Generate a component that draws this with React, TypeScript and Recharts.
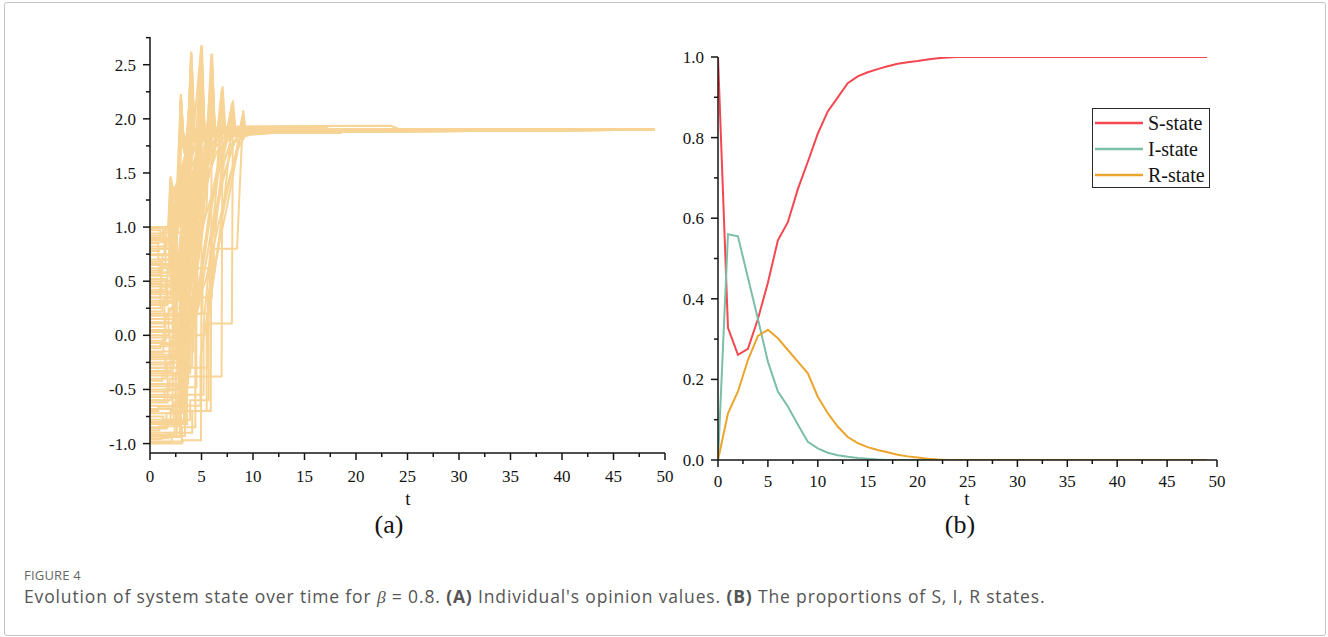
import { LineChart, Line, XAxis, YAxis, Legend } from "recharts";

const AXIS_FONT = '"Liberation Serif", "Times New Roman", serif';
const CAPTION_FONT = '"Open Sans", "Noto Sans", sans-serif';
const INK = "#141414";

// panel (a): each row is one individual's opinion path, as t, value pairs
const opinionPaths = [
  [0, 1.0, 1.8, 1.0, 2.0, 1.47, 2.15, 1.32, 2.75, 1.36, 3.0, 2.23, 3.25, 1.8, 3.8, 1.86, 5, 1.9, 49, 1.9],
  [0, 0.97, 1.0, 0.97, 1.0, 0.9, 1.9, 0.9, 2.05, 1.42, 2.3, 1.28, 2.7, 1.3, 2.95, 2.05, 3.2, 1.75, 4.2, 1.88, 49, 1.9],
  [0, 0.78, 0.9, 0.78, 0.9, 0.8, 2.0, 0.8, 2.0, 1.1, 2.8, 1.1, 3.05, 1.95, 3.3, 1.7, 4.5, 1.87, 49, 1.9],
  [0, 0.9, 1.5, 0.9, 1.5, 0.66, 2.3, 0.66, 2.3, 1.2, 2.85, 1.2, 3.05, 2.12, 3.35, 1.72, 4.6, 1.88, 49, 1.9],
  [0, 0.6, 1.2, 0.6, 1.2, 0.75, 2.6, 0.75, 2.6, 1.15, 3.6, 1.6, 4.0, 2.62, 4.3, 1.85, 5.5, 1.9, 49, 1.9],
  [0, 0.45, 2.1, 0.45, 2.1, 0.95, 3.2, 0.95, 3.55, 1.55, 3.95, 2.4, 4.25, 1.82, 5.2, 1.9, 49, 1.9],
  [0, 0.52, 1.6, 0.52, 1.6, 0.3, 2.5, 0.3, 2.5, 1.0, 3.7, 1.3, 4.05, 2.2, 4.3, 1.8, 5.6, 1.89, 49, 1.9],
  [0, 0.85, 0.8, 0.85, 0.8, 0.7, 2.2, 0.7, 2.2, 1.3, 3.6, 1.68, 3.98, 2.5, 4.28, 1.86, 5.3, 1.9, 49, 1.9],
  [0, 0.3, 2.4, 0.3, 2.4, 0.6, 3.3, 0.6, 3.3, 1.25, 3.75, 1.5, 4.05, 2.05, 4.35, 1.78, 6, 1.88, 49, 1.9],
  [0, -0.98, 3.2, -0.98, 3.2, -0.97, 4.95, -0.97, 5.05, 2.68, 5.3, 1.88, 6.5, 1.9, 49, 1.9],
  [0, -1.0, 3.1, -1.0, 3.1, -0.85, 4.4, -0.85, 4.4, 0.2, 4.85, 1.6, 5.0, 2.45, 5.3, 1.85, 6.3, 1.9, 49, 1.9],
  [0, 0.15, 2.6, 0.15, 2.6, 0.5, 4.2, 0.5, 4.7, 1.7, 5.0, 2.3, 5.25, 1.86, 6.0, 1.9, 49, 1.9],
  [0, -0.2, 1.9, -0.2, 1.9, 0.05, 3.4, 0.05, 3.4, 0.9, 4.6, 1.5, 4.98, 2.55, 5.3, 1.84, 6.4, 1.89, 49, 1.9],
  [0, 0.68, 1.1, 0.68, 1.1, 0.4, 3.0, 0.4, 3.0, 0.8, 4.3, 1.25, 5.05, 2.15, 5.35, 1.85, 6.2, 1.9, 49, 1.9],
  [0, -0.72, 2.9, -0.72, 2.9, -0.7, 5.9, -0.7, 6.0, 2.6, 6.3, 1.87, 7.5, 1.9, 49, 1.9],
  [0, -0.45, 2.2, -0.45, 2.2, -0.3, 4.1, -0.3, 4.1, 0.35, 5.5, 1.2, 5.95, 2.4, 6.3, 1.85, 7.3, 1.9, 49, 1.9],
  [0, 0.05, 3.0, 0.05, 3.0, 0.25, 4.6, 0.25, 4.6, 1.0, 5.6, 1.6, 6.05, 2.2, 6.35, 1.84, 7.2, 1.89, 49, 1.9],
  [0, -0.6, 1.4, -0.6, 1.4, -0.5, 3.6, -0.5, 3.6, -0.1, 5.0, 0.9, 5.7, 1.7, 6.0, 2.05, 6.3, 1.83, 7.6, 1.9, 49, 1.9],
  [0, -0.35, 3.3, -0.35, 3.3, -0.38, 6.95, -0.38, 7.05, 2.3, 7.35, 1.86, 8.5, 1.9, 49, 1.9],
  [0, -0.1, 2.7, -0.1, 2.7, 0.2, 5.1, 0.2, 5.1, 0.7, 6.5, 1.5, 6.95, 2.15, 7.3, 1.85, 8.3, 1.9, 49, 1.9],
  [0, -0.8, 3.4, -0.8, 3.4, -0.55, 5.2, -0.55, 5.2, 0.1, 6.4, 1.3, 7.05, 2.0, 7.35, 1.84, 8.6, 1.89, 49, 1.9],
  [0, -0.25, 2.8, -0.25, 2.8, 0.0, 5.3, 0.0, 5.3, 0.11, 7.95, 0.11, 8.05, 2.17, 8.35, 1.86, 9.4, 1.9, 49, 1.9],
  [0, -0.9, 2.6, -0.9, 2.6, -0.65, 4.9, -0.65, 4.9, -0.2, 6.8, 0.9, 7.6, 1.6, 8.0, 2.05, 8.3, 1.84, 9.6, 1.9, 49, 1.9],
  [0, 0.35, 3.8, 0.35, 3.8, 0.62, 6.2, 0.62, 6.2, 0.8, 8.45, 0.8, 9.05, 2.08, 9.3, 1.87, 10.5, 1.9, 49, 1.9],
  [0, -0.55, 3.1, -0.55, 3.1, -0.3, 5.6, -0.3, 5.6, 0.35, 7.5, 1.2, 8.6, 1.75, 9.0, 1.98, 9.3, 1.86, 11, 1.89, 49, 1.9],
  [0, 0.25, 1.0, 0.25, 1.0, 0.45, 2.9, 0.45, 3.4, 1.3, 4.2, 1.7, 5.5, 1.84, 8, 1.88, 12, 1.89, 49, 1.9],
  [0, -0.3, 2.3, -0.3, 2.3, 0.3, 4.0, 0.8, 5.0, 1.3, 6.5, 1.7, 8, 1.84, 12, 1.87, 18.5, 1.87, 19, 1.9, 49, 1.9],
  [0, -0.65, 3.0, -0.65, 3.0, -0.4, 4.8, 0.3, 6.0, 1.0, 7.2, 1.5, 8.2, 1.78, 9.5, 1.86, 15, 1.88, 15.5, 1.9, 49, 1.9],
  [0, 0.55, 2.0, 0.55, 2.4, 1.1, 3.2, 1.5, 4.4, 1.8, 6, 1.92, 9, 1.93, 23.4, 1.935, 24.3, 1.9, 49, 1.9],
  [0, -0.05, 1.5, -0.05, 1.5, 0.15, 3.6, 0.5, 5.4, 1.1, 6.8, 1.55, 7.8, 1.75, 8.7, 1.85, 11, 1.88, 49, 1.9],
  [0, 0.82, 1.6, 0.82, 1.6, 1.0, 2.2, 1.05, 2.8, 1.45, 3.5, 1.7, 4.5, 1.84, 7, 1.9, 49, 1.9],
  [0, -0.85, 1.7, -0.85, 1.7, -0.78, 3.9, -0.78, 3.9, -0.6, 5.7, -0.6, 5.7, 0.2, 7.0, 1.1, 7.9, 1.5, 8.6, 1.8, 9.8, 1.87, 12, 1.88, 49, 1.9],
  [0, 0.4, 2.9, 0.4, 2.9, 0.85, 4.0, 1.1, 5.2, 1.45, 6.2, 1.72, 7.5, 1.86, 10, 1.9, 49, 1.9],
  [0, -0.15, 3.6, -0.15, 3.6, 0.1, 5.4, 0.5, 6.6, 1.0, 7.7, 1.45, 8.5, 1.72, 9.2, 1.84, 11, 1.88, 49, 1.9],
  [0, 0.62, 2.3, 0.62, 2.3, 0.95, 3.1, 1.2, 3.9, 1.52, 4.8, 1.75, 5.8, 1.88, 9, 1.9, 49, 1.9],
  [0, -0.95, 1.8, -0.95, 1.8, -0.9, 3.0, -0.9, 3.0, -0.5, 3.8, 0.6, 4.2, 1.5, 4.6, 1.8, 5.05, 2.3, 5.3, 1.86, 6.5, 1.9, 49, 1.9],
  [0, -0.92, 2.4, -0.92, 2.4, -0.82, 3.3, -0.82, 3.3, -0.3, 4.4, 0.9, 5.6, 1.75, 5.98, 2.3, 6.3, 1.86, 7.5, 1.9, 49, 1.9],
  [0, -0.88, 0.9, -0.88, 0.9, -0.84, 2.7, -0.84, 2.7, -0.6, 3.5, 0.2, 3.8, 1.3, 4.02, 2.3, 4.3, 1.84, 5.5, 1.9, 49, 1.9],
  [0, -0.82, 2.0, -0.82, 2.0, -0.7, 3.2, -0.7, 3.2, 0.4, 3.7, 1.45, 3.95, 2.15, 4.25, 1.8, 5.7, 1.89, 49, 1.9],
  [0, -0.75, 1.3, -0.75, 1.3, -0.8, 2.5, -0.8, 2.5, -0.4, 3.6, 0.7, 4.6, 1.6, 5.02, 2.55, 5.3, 1.85, 6.6, 1.9, 49, 1.9],
  [0, -0.68, 2.2, -0.68, 2.2, -0.45, 3.7, -0.45, 3.7, 0.0, 5.0, 1.0, 5.8, 1.7, 6.02, 2.5, 6.3, 1.86, 7.6, 1.9, 49, 1.9],
  [0, -0.62, 1.7, -0.62, 1.7, -0.25, 2.9, -0.25, 2.9, 0.55, 3.6, 1.4, 3.97, 2.45, 4.27, 1.85, 5.6, 1.9, 49, 1.9],
  [0, -0.5, 2.8, -0.5, 2.8, -0.15, 4.2, -0.15, 4.2, 0.6, 5.3, 1.3, 6.6, 1.85, 7.0, 2.15, 7.3, 1.86, 8.6, 1.9, 49, 1.9],
  [0, -0.42, 1.2, -0.42, 1.2, -0.35, 3.4, -0.35, 3.4, 0.3, 4.5, 1.2, 4.9, 1.8, 5.0, 2.6, 5.28, 1.87, 6.4, 1.9, 49, 1.9],
  [0, -0.33, 2.0, -0.33, 2.0, -0.05, 3.2, -0.05, 3.2, 0.7, 3.8, 1.6, 4.0, 2.55, 4.28, 1.86, 5.4, 1.9, 49, 1.9],
  [0, -0.22, 2.5, -0.22, 2.5, 0.1, 3.9, 0.1, 3.9, 0.9, 5.4, 1.7, 5.95, 2.45, 6.25, 1.85, 7.4, 1.9, 49, 1.9],
  [0, -0.12, 1.0, -0.12, 1.0, -0.08, 2.2, -0.08, 2.2, 0.6, 2.8, 1.25, 3.02, 2.0, 3.3, 1.72, 4.6, 1.88, 49, 1.9],
  [0, -0.02, 2.6, -0.02, 2.6, 0.4, 3.8, 0.4, 3.8, 1.1, 4.8, 1.75, 5.03, 2.4, 5.3, 1.86, 6.5, 1.9, 49, 1.9],
  [0, 0.08, 1.4, 0.08, 1.4, 0.35, 2.6, 0.35, 2.6, 0.9, 3.6, 1.62, 3.98, 2.35, 4.25, 1.84, 5.4, 1.9, 49, 1.9],
  [0, 0.2, 2.3, 0.2, 2.3, 0.55, 3.5, 0.55, 3.5, 1.2, 4.7, 1.75, 5.02, 2.2, 5.3, 1.86, 6.3, 1.9, 49, 1.9],
  [0, 0.28, 1.7, 0.28, 1.7, 0.62, 2.4, 0.62, 2.4, 1.15, 2.8, 1.3, 3.0, 2.1, 3.28, 1.74, 4.4, 1.87, 49, 1.9],
  [0, 0.38, 2.7, 0.38, 2.7, 0.75, 4.3, 1.0, 5.5, 1.6, 5.97, 2.15, 6.3, 1.85, 7.4, 1.9, 49, 1.9],
  [0, 0.48, 1.1, 0.48, 1.1, 0.58, 2.0, 0.58, 2.0, 1.3, 2.7, 1.32, 2.97, 1.9, 3.3, 1.78, 4.3, 1.88, 49, 1.9],
  [0, 0.58, 1.9, 0.58, 1.9, 1.05, 2.5, 1.05, 2.5, 1.25, 3.55, 1.62, 4.0, 2.55, 4.3, 1.86, 5.4, 1.9, 49, 1.9],
  [0, 0.65, 2.1, 0.65, 2.1, 1.2, 2.75, 1.25, 3.6, 1.7, 4.02, 2.0, 4.3, 1.85, 5.4, 1.9, 49, 1.9],
  [0, 0.75, 1.4, 0.75, 1.4, 0.95, 1.95, 0.95, 2.02, 1.45, 2.2, 1.35, 2.75, 1.33, 3.0, 2.15, 3.3, 1.76, 4.5, 1.88, 49, 1.9],
  [0, 0.88, 1.85, 0.88, 1.98, 1.4, 2.3, 1.36, 2.8, 1.38, 3.4, 1.65, 3.96, 2.3, 4.25, 1.86, 5.3, 1.9, 49, 1.9],
  [0, 0.94, 1.25, 0.94, 1.25, 1.0, 1.9, 1.0, 2.1, 1.33, 2.8, 1.4, 3.02, 1.9, 3.6, 1.8, 4.5, 1.88, 49, 1.9],
  [0, -0.18, 3.3, -0.18, 3.3, 0.45, 4.9, 1.4, 5.6, 1.75, 6.1, 1.83, 6.9, 1.88, 9, 1.89, 16, 1.895, 49, 1.9],
  [0, 0.18, 3.0, 0.18, 3.0, 0.35, 6.0, 0.35, 6.0, 0.9, 7.2, 1.6, 8.0, 1.85, 8.9, 1.9, 10.2, 1.92, 17, 1.92, 17.6, 1.9, 49, 1.9],
  [0, -0.99, 2.1, -0.99, 2.1, -0.93, 3.4, -0.93, 3.4, -0.2, 4.3, 0.9, 5.0, 1.5, 5.9, 1.8, 6.05, 2.45, 6.3, 1.86, 7.5, 1.9, 49, 1.9],
  [0, -0.96, 1.1, -0.96, 1.1, -0.94, 2.9, -0.94, 2.9, -0.6, 3.9, 0.4, 4.5, 1.3, 4.97, 2.5, 5.25, 1.87, 6.4, 1.9, 49, 1.9],
  [0, -0.93, 2.6, -0.93, 2.6, -0.9, 4.1, -0.9, 4.1, -0.7, 5.5, -0.7, 5.5, 0.1, 6.4, 1.0, 7.0, 1.6, 7.6, 1.85, 7.95, 2.1, 8.25, 1.86, 9.4, 1.9, 49, 1.9],
  [0, -0.86, 1.6, -0.86, 1.6, -0.72, 3.1, -0.72, 3.1, -0.1, 3.7, 0.8, 4.0, 1.6, 4.1, 2.45, 4.35, 1.85, 5.6, 1.9, 49, 1.9],
  [0, -0.78, 2.3, -0.78, 2.3, -0.62, 3.5, -0.62, 3.5, 0.0, 4.6, 1.1, 5.5, 1.65, 6.0, 2.55, 6.3, 1.87, 7.4, 1.9, 49, 1.9],
  [0, -0.7, 0.8, -0.7, 0.8, -0.66, 2.8, -0.66, 2.8, -0.2, 3.8, 0.9, 4.5, 1.55, 4.95, 2.1, 5.25, 1.85, 6.3, 1.9, 49, 1.9],
  [0, -0.57, 2.5, -0.57, 2.5, -0.35, 3.9, -0.35, 3.9, 0.5, 5.4, 1.35, 6.5, 1.8, 7.0, 2.25, 7.3, 1.86, 8.5, 1.9, 49, 1.9],
  [0, -0.52, 1.9, -0.52, 1.9, -0.4, 3.0, -0.4, 3.0, 0.3, 3.6, 1.2, 3.95, 2.0, 4.3, 1.82, 5.5, 1.9, 49, 1.9],
  [0, -0.47, 2.7, -0.47, 2.7, -0.48, 4.5, -0.48, 4.5, 0.2, 6.0, 1.2, 7.2, 1.75, 7.95, 2.12, 8.25, 1.86, 9.3, 1.9, 49, 1.9],
  [0, -0.4, 1.5, -0.4, 1.5, -0.2, 2.6, -0.2, 2.6, 0.5, 3.2, 1.2, 3.6, 1.65, 3.98, 2.58, 4.28, 1.87, 5.4, 1.9, 49, 1.9],
  [0, -0.27, 2.2, -0.27, 2.2, 0.0, 3.3, 0.0, 3.3, 0.8, 4.2, 1.5, 4.7, 1.75, 5.0, 2.62, 5.28, 1.87, 6.4, 1.9, 49, 1.9],
  [0, -0.16, 1.3, -0.16, 1.3, 0.05, 2.4, 0.05, 2.4, 0.8, 2.8, 1.3, 3.0, 2.18, 3.3, 1.74, 4.3, 1.87, 49, 1.9],
  [0, -0.07, 2.9, -0.07, 2.9, 0.3, 4.4, 0.3, 4.4, 1.0, 5.4, 1.6, 5.96, 2.6, 6.26, 1.87, 7.4, 1.9, 49, 1.9],
  [0, 0.0, 1.8, 0.0, 1.8, 0.25, 3.1, 0.25, 3.1, 1.0, 3.7, 1.55, 4.03, 2.6, 4.3, 1.86, 5.4, 1.9, 49, 1.9],
  [0, 0.12, 2.5, 0.12, 2.5, 0.45, 3.7, 0.45, 3.7, 1.1, 4.6, 1.65, 5.0, 2.5, 5.3, 1.86, 6.3, 1.9, 49, 1.9],
  [0, 0.22, 1.2, 0.22, 1.2, 0.32, 2.2, 0.32, 2.2, 0.9, 2.7, 1.25, 3.0, 2.2, 3.28, 1.78, 4.2, 1.87, 49, 1.9],
  [0, 0.32, 2.8, 0.32, 2.8, 0.7, 4.0, 0.95, 5.2, 1.45, 6.3, 1.78, 6.98, 2.05, 7.3, 1.86, 8.4, 1.9, 49, 1.9],
  [0, 0.42, 1.5, 0.42, 1.5, 0.5, 2.6, 0.5, 2.6, 1.1, 3.3, 1.5, 3.95, 2.3, 4.25, 1.85, 5.4, 1.9, 49, 1.9],
  [0, 0.5, 2.2, 0.5, 2.2, 0.85, 3.5, 1.2, 4.7, 1.6, 5.6, 1.8, 6.0, 2.35, 6.3, 1.86, 7.4, 1.9, 49, 1.9],
  [0, 0.56, 0.9, 0.56, 0.9, 0.63, 1.85, 0.63, 2.0, 1.2, 2.6, 1.3, 2.98, 2.2, 3.3, 1.76, 4.4, 1.88, 49, 1.9],
  [0, 0.7, 2.0, 0.7, 2.05, 1.44, 2.3, 1.3, 2.75, 1.3, 3.03, 2.05, 3.3, 1.7, 3.6, 1.68, 4.0, 2.45, 4.3, 1.86, 5.5, 1.9, 49, 1.9],
  [0, 0.8, 1.6, 0.8, 1.6, 0.9, 1.95, 0.9, 2.05, 1.38, 2.7, 1.34, 3.0, 2.0, 3.3, 1.78, 4.4, 1.88, 49, 1.9],
  [0, 0.86, 1.9, 0.86, 2.0, 1.3, 2.6, 1.32, 3.6, 1.6, 4.6, 1.85, 5.0, 2.55, 5.3, 1.86, 6.4, 1.9, 49, 1.9],
  [0, 0.92, 1.3, 0.92, 1.3, 0.97, 1.85, 0.97, 2.0, 1.46, 2.25, 1.3, 2.8, 1.35, 3.0, 2.23, 3.28, 1.75, 3.6, 1.65, 4.0, 2.62, 4.3, 1.87, 5.4, 1.9, 49, 1.9],
  [0, 0.99, 1.75, 0.99, 1.97, 1.43, 2.3, 1.32, 2.8, 1.36, 3.5, 1.7, 4.5, 1.86, 4.98, 2.66, 5.3, 1.88, 6.3, 1.9, 49, 1.9],
  [0, 0.03, 3.2, 0.03, 3.2, 0.6, 4.8, 1.3, 5.8, 1.72, 6.5, 1.85, 6.97, 2.28, 7.3, 1.87, 8.3, 1.9, 49, 1.9],
  [0, -0.37, 3.5, -0.37, 3.5, -0.1, 5.0, 0.6, 6.3, 1.4, 7.3, 1.8, 7.98, 2.15, 8.3, 1.86, 9.5, 1.9, 49, 1.9],
  [0, 0.11, 3.4, 0.11, 3.4, 0.2, 5.8, 0.2, 5.8, 0.75, 7.0, 1.4, 8.0, 1.75, 8.6, 1.85, 9.02, 2.05, 9.3, 1.87, 10.6, 1.9, 49, 1.9],
  [0, 0.47, 3.1, 0.47, 3.1, 0.9, 4.4, 1.35, 5.6, 1.7, 6.6, 1.84, 7.5, 1.88, 9.5, 1.9, 49, 1.9],
  [0, -0.6, 2.0, -0.6, 2.0, -0.58, 3.3, -0.58, 3.3, 0.15, 4.3, 1.05, 5.2, 1.6, 5.85, 1.85, 6.03, 2.6, 6.3, 1.87, 7.5, 1.9, 49, 1.9],
  [0, 0.66, 2.4, 0.66, 2.4, 1.1, 3.4, 1.45, 4.3, 1.73, 5.2, 1.86, 6.5, 1.91, 12, 1.92, 14, 1.9, 49, 1.9],
  [0, 0.74, 1.9, 0.74, 1.95, 1.35, 2.7, 1.38, 2.99, 2.12, 3.3, 1.75, 4.2, 1.85, 4.98, 2.68, 5.3, 1.88, 6.3, 1.9, 49, 1.9],
  [0, -0.3, 3.2, -0.3, 3.2, 0.4, 4.3, 1.2, 5.2, 1.7, 5.97, 2.2, 6.3, 1.86, 7.3, 1.9, 49, 1.9],
  [0, 0.35, 2.0, 0.35, 2.0, 0.7, 3.0, 0.7, 3.0, 1.3, 3.7, 1.7, 4.02, 2.4, 4.3, 1.86, 5.4, 1.9, 49, 1.9],
  [0, -0.82, 3.6, -0.82, 3.6, -0.3, 4.8, 0.5, 6.0, 1.3, 7.0, 1.75, 7.5, 1.83, 8.6, 1.86, 9.0, 2.0, 9.3, 1.88, 12.5, 1.88, 13, 1.9, 49, 1.9],
];

const opinionMajorY = [-1, -0.5, 0, 0.5, 1, 1.5, 2, 2.5];
const opinionMinorY = [-0.75, -0.25, 0.25, 0.75, 1.25, 1.75, 2.25, 2.75];

// panel (b): share of S, I, R nodes at each step
const stateNames = ["S-state", "I-state", "R-state"];
const tSteps = [
  0, 1, 2, 3, 4, 5, 6, 7, 8, 9, 10, 11, 12, 13, 14, 15, 16, 17, 18, 19, 20, 21, 22, 23, 24,
  25, 26, 27, 28, 29, 30, 31, 32, 33, 34, 35, 36, 37, 38, 39, 40, 41, 42, 43, 44, 45, 46, 47, 48, 49,
];
const sState = [
  1.0, 0.328, 0.261, 0.276, 0.35, 0.44, 0.545, 0.59, 0.672, 0.74, 0.81, 0.865, 0.9, 0.935, 0.952,
  0.962, 0.97, 0.977, 0.983, 0.987, 0.99, 0.994, 0.997, 0.999, 1, 1, 1, 1, 1, 1, 1, 1, 1, 1, 1, 1,
  1, 1, 1, 1, 1, 1, 1, 1, 1, 1, 1, 1, 1, 1,
];
const iState = [
  0, 0.56, 0.555, 0.452, 0.35, 0.244, 0.17, 0.133, 0.088, 0.045, 0.029, 0.018, 0.012, 0.008, 0.005,
  0.003, 0.001, 0, 0, 0, 0, 0, 0, 0, 0, 0, 0, 0, 0, 0, 0, 0, 0, 0, 0, 0, 0, 0, 0, 0, 0, 0, 0, 0, 0,
  0, 0, 0, 0, 0,
];
const rState = [
  0, 0.116, 0.17, 0.248, 0.308, 0.323, 0.302, 0.273, 0.244, 0.215, 0.157, 0.116, 0.083, 0.057, 0.042,
  0.032, 0.025, 0.019, 0.013, 0.009, 0.006, 0.003, 0.001, 0, 0, 0, 0, 0, 0, 0, 0, 0, 0, 0, 0, 0, 0,
  0, 0, 0, 0, 0, 0, 0, 0, 0, 0, 0, 0, 0,
];
const stateMajorY = [0, 0.2, 0.4, 0.6, 0.8, 1.0];
const stateMinorY = [0.1, 0.3, 0.5, 0.7, 0.9];

const tMajor = [0, 5, 10, 15, 20, 25, 30, 35, 40, 45, 50];
const tMinor = [2.5, 7.5, 12.5, 17.5, 22.5, 27.5, 32.5, 37.5, 42.5, 47.5];

const opinionSeries = opinionPaths.map((p) => {
  const pts: { t: number; v: number }[] = [];
  for (let k = 0; k < p.length; k += 2) pts.push({ t: p[k], v: p[k + 1] });
  return pts;
});

const stateRows = tSteps.map((t, k) => ({ t, s: sState[k], i: iState[k], r: rState[k] }));

const sortNum = (a: number[]) => [...a].sort((x, y) => x - y);

function YTick(props: any) {
  const { x, y, payload, majors } = props;
  const major = majors.includes(payload.value);
  return (
    <g>
      <line x1={x - (major ? 7 : 4)} x2={x} y1={y} y2={y} stroke={INK} strokeWidth={1.5} />
      {major && (
        <text x={x - 14} y={y + 6} textAnchor="end" fill={INK} style={{ fontFamily: AXIS_FONT, fontSize: 17 }}>
          {payload.value.toFixed(1)}
        </text>
      )}
    </g>
  );
}

function XTick(props: any) {
  const { x, y, payload, labelGap } = props;
  const major = tMajor.includes(payload.value);
  return (
    <g>
      <line x1={x} x2={x} y1={y} y2={y + (major ? 7 : 4)} stroke={INK} strokeWidth={1.5} />
      {major && (
        <text x={x} y={y + labelGap} textAnchor="middle" fill={INK} style={{ fontFamily: AXIS_FONT, fontSize: 17 }}>
          {payload.value}
        </text>
      )}
    </g>
  );
}

function StateLegend(props: any) {
  const items = [...(props.payload || [])].sort(
    (a: any, b: any) => stateNames.indexOf(a.value) - stateNames.indexOf(b.value)
  );
  return (
    <div
      style={{
        width: 118,
        height: 80,
        boxSizing: "border-box",
        border: "1.5px solid #2a2a2a",
        background: "#fff",
        paddingTop: 1,
        fontFamily: AXIS_FONT,
        fontSize: 20,
        color: INK,
      }}
    >
      {items.map((it: any) => (
        <div key={it.value} style={{ display: "flex", alignItems: "center", height: 26 }}>
          <svg width={52} height={4} style={{ flex: "none" }}>
            <line x1={2} x2={50} y1={2} y2={2} stroke={it.color} strokeWidth={2.5} />
          </svg>
          <span style={{ marginLeft: 3, lineHeight: "26px" }}>{it.value}</span>
        </div>
      ))}
    </div>
  );
}

export default function App() {
  const axisLine = { stroke: INK, strokeWidth: 1.5 };
  return (
    <div style={{ position: "absolute", left: 0, top: 0, width: 1328, height: 637, background: "#fff" }}>
      <div
        style={{
          position: "absolute",
          left: 4,
          top: 2,
          width: 1322,
          height: 634,
          boxSizing: "border-box",
          border: "1px solid #c4c4c4",
          borderRadius: 3,
        }}
      />

      <div style={{ position: "absolute", left: 0, top: 0 }}>
        <LineChart width={700} height={520} margin={{ top: 37, right: 35, bottom: 27, left: 100 }}>
          <XAxis
            type="number"
            dataKey="t"
            domain={[0, 50]}
            allowDataOverflow
            ticks={sortNum([...tMajor, ...tMinor])}
            interval={0}
            tickSize={0}
            tickMargin={0}
            tickLine={false}
            axisLine={axisLine}
            height={40}
            tick={(p: any) => <XTick {...p} labelGap={29} />}
          />
          <YAxis
            type="number"
            domain={[-1.087, 2.756]}
            allowDataOverflow
            ticks={sortNum([...opinionMajorY, ...opinionMinorY])}
            interval={0}
            tickSize={0}
            tickMargin={0}
            tickLine={false}
            axisLine={axisLine}
            width={50}
            tick={(p: any) => <YTick {...p} majors={opinionMajorY} />}
          />
          {opinionSeries.map((pts, k) => (
            <Line
              key={k}
              data={pts}
              dataKey="v"
              type="linear"
              stroke="#f7d496"
              strokeWidth={2}
              dot={false}
              activeDot={false}
              isAnimationActive={false}
            />
          ))}
        </LineChart>
      </div>

      <div style={{ position: "absolute", left: 640, top: 0 }}>
        <LineChart width={620} height={520} data={stateRows} margin={{ top: 57, right: 43, bottom: 20, left: 38 }}>
          <XAxis
            type="number"
            dataKey="t"
            domain={[0, 50]}
            allowDataOverflow
            ticks={sortNum([...tMajor, ...tMinor])}
            interval={0}
            tickSize={0}
            tickMargin={0}
            tickLine={false}
            axisLine={axisLine}
            height={40}
            tick={(p: any) => <XTick {...p} labelGap={27} />}
          />
          <YAxis
            type="number"
            domain={[0, 1]}
            allowDataOverflow
            ticks={sortNum([...stateMajorY, ...stateMinorY])}
            interval={0}
            tickSize={0}
            tickMargin={0}
            tickLine={false}
            axisLine={axisLine}
            width={40}
            tick={(p: any) => <YTick {...p} majors={stateMajorY} />}
          />
          <Line name="S-state" dataKey="s" type="linear" stroke="#f4474f" strokeWidth={2} dot={false} isAnimationActive={false} />
          <Line name="I-state" dataKey="i" type="linear" stroke="#7bbfa6" strokeWidth={2} dot={false} isAnimationActive={false} />
          <Line name="R-state" dataKey="r" type="linear" stroke="#eba42c" strokeWidth={2} dot={false} isAnimationActive={false} />
          <Legend
            layout="horizontal"
            verticalAlign="middle"
            align="center"
            content={(p: any) => <StateLegend {...p} />}
            wrapperStyle={{ left: 452, top: 108, width: 118, height: 80 }}
          />
        </LineChart>
      </div>

      <svg width={1328} height={637} style={{ position: "absolute", left: 0, top: 0, pointerEvents: "none" }}>
        <g fill={INK} textAnchor="middle" style={{ fontFamily: AXIS_FONT }}>
          <text x={408} y={505} style={{ fontSize: 19 }}>t</text>
          <text x={967} y={505} style={{ fontSize: 19 }}>t</text>
          <text x={389} y={533} style={{ fontSize: 26 }}>(a)</text>
          <text x={960} y={533} style={{ fontSize: 26 }}>(b)</text>
        </g>
      </svg>

      <div
        style={{
          position: "absolute",
          left: 24,
          top: 566,
          fontFamily: CAPTION_FONT,
          fontSize: 13,
          color: "#666",
          letterSpacing: 0.2,
        }}
      >
        FIGURE 4
      </div>
      <div
        style={{
          position: "absolute",
          left: 24,
          top: 584,
          fontFamily: CAPTION_FONT,
          fontSize: 17.5,
          letterSpacing: 0.85,
          color: "#555",
          whiteSpace: "nowrap",
        }}
      >
        Evolution of system state over time for <i style={{ fontFamily: AXIS_FONT }}>β</i> = 0.8.{" "}
        <b>(A)</b> Individual's opinion values. <b>(B)</b> The proportions of S, I, R states.
      </div>
    </div>
  );
}
